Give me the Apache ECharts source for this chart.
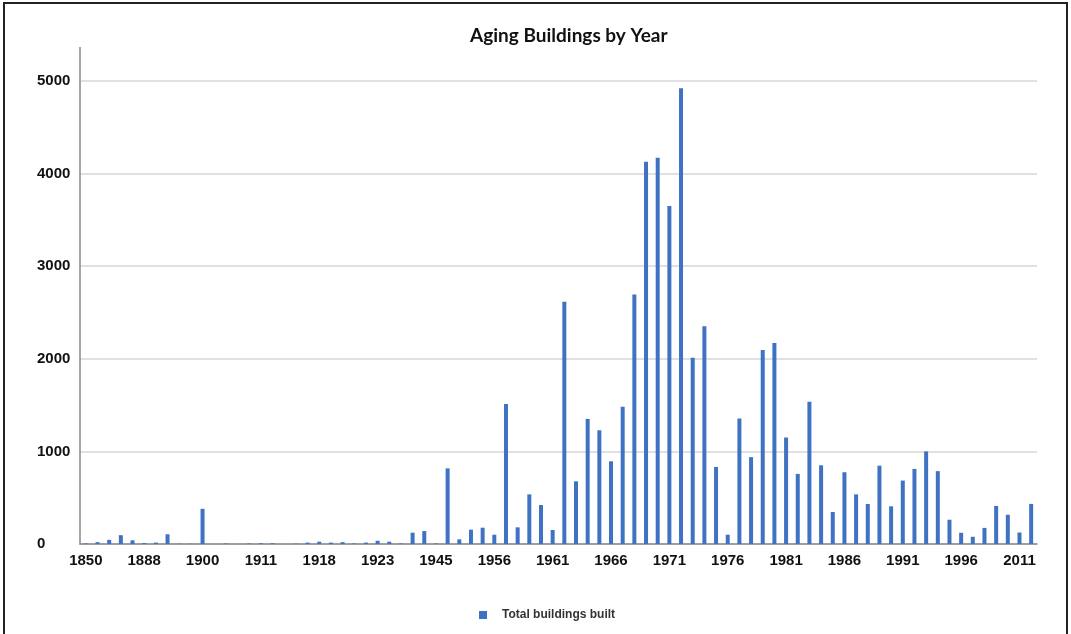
<!DOCTYPE html>
<html>
<head>
<meta charset="utf-8">
<title>Aging Buildings by Year</title>
<script src="https://cdn.jsdelivr.net/npm/echarts@6/dist/echarts.min.js"></script>
<style>
    html, body { margin: 0; padding: 0; background: #fff; }
    #chart { width: 1071px; height: 634px; }
    #frame {
        position: absolute; left: 3px; top: 2px; width: 1061px; height: 640px;
        border: 2px solid #222; pointer-events: none;
    }
</style>
</head>
<body>
<div id="chart"></div>
<div id="frame"></div>
<script>
var years = [
    '1850', '1860', '1870', '1875', '1880', '1888', '1890', '1893', '1895', '1898',
    '1900', '1902', '1904', '1906', '1909', '1911', '1912', '1914', '1915', '1916',
    '1918', '1919', '1920', '1921', '1922', '1923', '1925', '1930', '1935', '1940',
    '1945', '1947', '1950', '1952', '1954', '1956', '1957', '1958', '1959', '1960',
    '1961', '1962', '1963', '1964', '1965', '1966', '1967', '1968', '1969', '1970',
    '1971', '1972', '1973', '1974', '1975', '1976', '1977', '1978', '1979', '1980',
    '1981', '1982', '1983', '1984', '1985', '1986', '1987', '1988', '1989', '1990',
    '1991', '1992', '1993', '1994', '1995', '1996', '1997', '1999', '2002', '2006',
    '2011', '2014'
];

var built = [
    5, 20, 45, 95, 40, 10, 15, 105, 3, 3,
    380, 0, 5, 0, 5, 8, 8, 0, 3, 15,
    25, 15, 20, 5, 15, 35, 25, 5, 122, 140,
    5, 817, 50, 155, 176, 100, 1511, 180, 536, 421,
    151, 2615, 677, 1351, 1228, 893, 1481, 2694, 4128, 4171,
    3649, 4921, 2010, 2352, 832, 100, 1355, 938, 2096, 2171,
    1150, 757, 1536, 850, 346, 775, 536, 432, 846, 407,
    685, 811, 1000, 787, 262, 121, 78, 174, 411, 316,
    124, 433
];

var yTicks = [0, 1000, 2000, 3000, 4000, 5000];

var chart = echarts.init(document.getElementById('chart'));

var opt = {
    animation: false,
    title: {
        text: 'Aging Buildings by Year',
        left: 465,
        top: 21,
        textStyle: {
            fontFamily: 'Lato',
            fontWeight: 'bold',
            fontSize: 19,
            color: '#111'
        }
    },
    legend: {
        data: ['Total buildings built'],
        left: 474,
        top: 604,
        itemWidth: 8,
        itemHeight: 8,
        icon: 'rect',
        textStyle: {
            fontFamily: 'Liberation Sans',
            fontWeight: 'bold',
            fontSize: 12,
            color: '#333',
            padding: [0, 0, 0, 10]
        }
    },
    grid: {
        left: 80,
        right: 34,
        top: 81,
        bottom: 90
    },
    xAxis: {
        type: 'category',
        data: years,
        axisLine: { lineStyle: { color: '#888', width: 1.5 } },
        axisTick: { show: false },
        axisLabel: {
            interval: 4,
            margin: 9,
            fontFamily: 'Liberation Sans',
            fontWeight: 'bold',
            fontSize: 15,
            color: '#111'
        }
    },
    yAxis: {
        type: 'value',
        min: yTicks[0],
        max: yTicks[yTicks.length - 1],
        interval: 1000,
        axisLine: { show: true, lineStyle: { color: '#888', width: 1.5 } },
        axisTick: { show: false },
        splitLine: { lineStyle: { color: '#d6d6d6', width: 1.5 } },
        axisLabel: {
            align: 'left',
            margin: 43,
            formatter: function (v) { return String(v); },
            fontFamily: 'Liberation Sans',
            fontWeight: 'bold',
            fontSize: 15,
            color: '#111'
        }
    },
    graphic: [{
        // y axis line continues above the 5000 gridline
        type: 'line',
        shape: { x1: 80, y1: 47, x2: 80, y2: 81 },
        style: { stroke: '#888', lineWidth: 1.5 }
    }],
    series: [{
        name: 'Total buildings built',
        type: 'bar',
        data: built,
        barWidth: 4,
        itemStyle: { color: '#3f72c2' }
    }]
};

chart.setOption(opt);
</script>
</body>
</html>
